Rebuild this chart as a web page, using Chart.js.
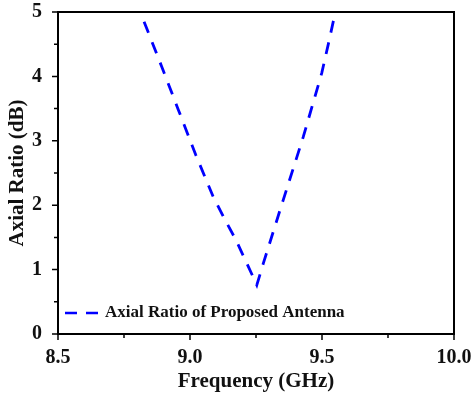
<!DOCTYPE html>
<html>
<head>
<meta charset="utf-8">
<script src="https://cdn.jsdelivr.net/npm/chart.js@4"></script>
<style>
  html, body { margin: 0; padding: 0; background: #fff; }
  #wrap { width: 474px; height: 394px; }
</style>
</head>
<body>
<div id="wrap"><canvas id="arChart" width="474" height="394"></canvas></div>
<script>
// values
const freqGHz = [8.826, 8.893, 8.956, 9.022, 9.088, 9.133, 9.174, 9.215, 9.253, 9.278, 9.353, 9.429, 9.499, 9.525, 9.550];
const axialRatio = [4.85, 4.15, 3.48, 2.78, 2.13, 1.77, 1.46, 1.10, 0.76, 1.10, 2.08, 3.06, 4.05, 4.52, 4.99];
const seriesLabel = 'Axial Ratio of Proposed Antenna';
const xTicks = [8.5, 9.0, 9.5, 10.0];
const yTicks = [0, 1, 2, 3, 4, 5];

const serif = "'Liberation Serif', 'Times New Roman', serif";

// frame, major/minor ticks and the in-plot legend
const framePlugin = {
    id: 'frame',
    afterDraw(chart) {
        const c = chart.ctx, a = chart.chartArea;
        const xs = chart.scales.x, ys = chart.scales.y;
        c.save();
        c.strokeStyle = '#000';
        c.lineWidth = 2;
        c.strokeRect(a.left, a.top, a.right - a.left, a.bottom - a.top);
        c.lineWidth = 1.5;
        c.beginPath();
        for (let v = 8.5; v <= 10.0001; v += 0.25) {
            const px = xs.getPixelForValue(v);
            const major = Math.abs(v * 2 - Math.round(v * 2)) < 1e-6;
            c.moveTo(px, a.bottom);
            c.lineTo(px, a.bottom + (major ? 6 : 4));
        }
        for (let v = 0; v <= 5.0001; v += 0.5) {
            const py = ys.getPixelForValue(v);
            const major = Math.abs(v - Math.round(v)) < 1e-6;
            c.moveTo(a.left, py);
            c.lineTo(a.left - (major ? 6 : 4), py);
        }
        c.stroke();

        // legend
        const ly = a.bottom - 21;
        c.strokeStyle = '#0000FF';
        c.lineWidth = 2.5;
        c.setLineDash([12, 9]);
        c.beginPath();
        c.moveTo(a.left + 7, ly);
        c.lineTo(a.left + 40, ly);
        c.stroke();
        c.setLineDash([]);
        c.fillStyle = '#111';
        c.font = 'bold 17px ' + serif;
        c.textBaseline = 'middle';
        c.fillText(chart.data.datasets[0].label, a.left + 47, ly);
        c.restore();
    }
};

const chart = new Chart(document.getElementById('arChart').getContext('2d'), {
    type: 'scatter',
    data: {
        datasets: [{
            label: seriesLabel,
            data: freqGHz.map((f, i) => ({ x: f, y: axialRatio[i] })),
            showLine: true,
            borderColor: '#0000FF',
            borderWidth: 2.8,
            borderDash: [12, 10],
            pointRadius: 0,
            tension: 0,
            fill: false
        }]
    },
    options: {
        responsive: false,
        animation: false,
        layout: { padding: { top: 12, right: 20, left: 5, bottom: 0 } },
        scales: {
            x: {
                type: 'linear',
                min: 8.5, max: 10.0,
                afterBuildTicks: s => { s.ticks = xTicks.map(v => ({ value: v })); },
                afterFit: s => { s.height = 60; s.paddingLeft = 0; s.paddingRight = 0; },
                border: { display: false },
                grid: { display: false },
                ticks: {
                    color: '#111', padding: 4,
                    font: { family: serif, size: 20, weight: 'bold' },
                    callback: v => v.toFixed(1)
                },
                title: {
                    display: true, text: 'Frequency (GHz)', color: '#111',
                    font: { family: serif, size: 21, weight: 'bold' },
                    padding: { top: 0, bottom: 0 }
                }
            },
            y: {
                min: 0, max: 5,
                afterBuildTicks: s => { s.ticks = yTicks.map(v => ({ value: v })); },
                afterFit: s => { s.width = 53; s.paddingTop = 0; s.paddingBottom = 0; },
                border: { display: false },
                grid: { display: false },
                ticks: {
                    color: '#111', padding: 8,
                    font: { family: serif, size: 20, weight: 'bold' }
                },
                title: {
                    display: true, text: 'Axial Ratio (dB)', color: '#111',
                    font: { family: serif, size: 21, weight: 'bold' },
                    padding: { top: 0, bottom: 0 }
                }
            }
        },
        plugins: {
            legend: { display: false },
            tooltip: { enabled: false }
        }
    },
    plugins: [framePlugin]
});
</script>
</body>
</html>
